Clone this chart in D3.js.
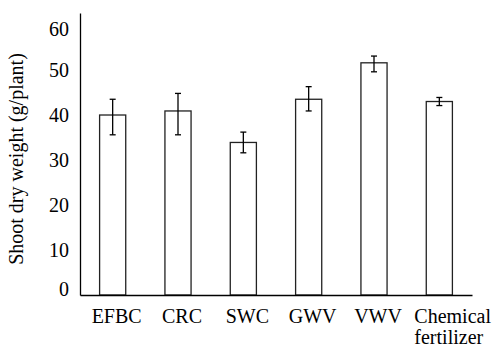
<!DOCTYPE html>
<html lang="en">
<head>
    <meta charset="UTF-8">
    <title>Shoot dry weight</title>
    <style>
        body {
            margin: 0;
            background-color: #fff;
        }
    </style>
    <script src="https://d3js.org/d3.v7.min.js"></script>
</head>
<body>
    <div id="chart"></div>

    <script>
        // values
        const categories = ["EFBC", "CRC", "SWC", "GWV", "VWV", "Chemical fertilizer"];
        const means = [40.0, 40.9, 33.9, 43.5, 51.6, 43.0];
        const errLow = [35.6, 35.6, 31.6, 40.9, 49.6, 42.1];
        const errHigh = [43.5, 44.8, 36.2, 46.3, 53.1, 43.9];
        const yTicks = [0, 10, 20, 30, 40, 50, 60];

        const FONT = "Liberation Serif";

        const width = 495;
        const height = 347;
        const margin = { top: 13, right: 23, bottom: 52, left: 80 };

        const svg = d3.select("#chart").append("svg")
            .attr("width", width)
            .attr("height", height);

        const x = d3.scaleBand()
            .domain(categories)
            .range([margin.left, width - margin.right])
            .paddingInner(0.6)
            .paddingOuter(0.3);

        const y = d3.scaleLinear()
            .domain([0, 62.67])
            .range([height - margin.bottom, margin.top]);

        const data = categories.map((c, i) => ({
            cat: c, mean: means[i], lo: errLow[i], hi: errHigh[i]
        }));

        // bars
        svg.append("g")
            .selectAll("rect")
            .data(data)
            .enter().append("rect")
            .attr("x", d => x(d.cat))
            .attr("y", d => y(d.mean))
            .attr("width", x.bandwidth())
            .attr("height", d => y(0) - y(d.mean))
            .attr("fill", "#fff")
            .attr("stroke", "#222")
            .attr("stroke-width", 1.3);

        // error bars
        const err = svg.append("g").attr("stroke", "#000").attr("stroke-width", 1.3);
        data.forEach(d => {
            const cx = x(d.cat) + x.bandwidth() / 2;
            err.append("line").attr("x1", cx).attr("x2", cx).attr("y1", y(d.lo)).attr("y2", y(d.hi));
            err.append("line").attr("x1", cx - 3).attr("x2", cx + 3).attr("y1", y(d.lo)).attr("y2", y(d.lo));
            err.append("line").attr("x1", cx - 3).attr("x2", cx + 3).attr("y1", y(d.hi)).attr("y2", y(d.hi));
        });

        // y axis, no tick marks, just labels
        const yAxis = svg.append("g")
            .attr("transform", `translate(${margin.left},0)`)
            .call(d3.axisLeft(y).tickValues(yTicks).tickSize(0).tickPadding(11));
        yAxis.attr("font-family", FONT).attr("font-size", 20);
        yAxis.select(".domain").attr("stroke", "#000").attr("stroke-width", 1.3);
        yAxis.selectAll("text")
            .attr("font-family", FONT)
            .attr("font-size", 20)
            .attr("dy", d => d === 0 ? "0em" : d === 60 ? "0.5em" : "0.32em");

        // x axis
        const xAxis = svg.append("g")
            .attr("transform", `translate(0,${y(0)})`)
            .call(d3.axisBottom(x).tickSize(0).tickFormat(""));
        xAxis.attr("font-family", FONT).attr("font-size", 20);
        xAxis.select(".domain").attr("stroke", "#000").attr("stroke-width", 1.3);

        // category labels; the two-word one wraps and sits left-aligned
        xAxis.selectAll(".tick").each(function(d) {
            const words = d.split(" ");
            const lx = words.length > 1 ? -25 : 4;
            const t = d3.select(this).append("text")
                .attr("font-family", FONT)
                .attr("fill", "#000")
                .attr("font-size", 20)
                .attr("y", 28)
                .attr("text-anchor", words.length > 1 ? "start" : "middle");
            words.forEach((w, i) => {
                t.append("tspan")
                    .attr("x", lx)
                    .attr("dy", i === 0 ? 0 : 21)
                    .text(w);
            });
        });

        // y axis title
        svg.append("text")
            .attr("transform", `translate(23,${(48 + 270) / 2}) rotate(-90)`)
            .attr("text-anchor", "middle")
            .attr("font-family", FONT)
            .attr("font-size", 20)
            .text("Shoot dry weight (g/plant)");
    </script>
</body>
</html>
